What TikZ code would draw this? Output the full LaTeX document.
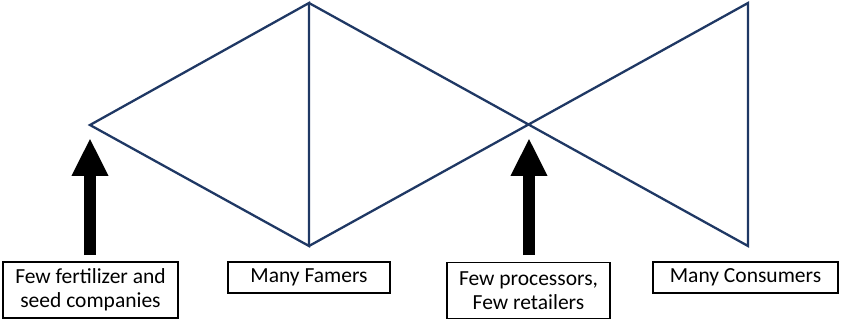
\documentclass[tikz,border=0pt]{standalone}
\usepackage{fontspec}
\setmainfont{Carlito}
\usetikzlibrary{arrows.meta,positioning}
\definecolor{fishblue}{HTML}{1F3864}

\begin{document}
\begin{tikzpicture}[x=1pt,y=-1pt,
                   outline/.style={draw=fishblue,line width=2.3pt,line join=miter},
                   bigarrow/.style={draw=black,line width=12pt,
                     -{Triangle[width=34pt,length=38pt]}},
                   box/.style={draw=black,line width=1.2pt,fill=white,
                     shape=rectangle,align=center,minimum height=31pt,
                     inner sep=0pt,font=\fontsize{21.5}{24.5}\selectfont}]
  \useasboundingbox (0,0) rectangle (842,320);
  % fish outline
  \coordinate (tip) at (90,125);
  \coordinate (topA) at (309,3);
  \coordinate (botA) at (309,246);
  \coordinate (topB) at (748,3);
  \coordinate (botB) at (748,246);
  \draw[outline] (tip) -- (topA) -- (botA) -- cycle;
  \draw[outline] (topA) -- (botB) -- (topB) -- (botA);
  % labels
  \node[box,minimum width=175pt,minimum height=56pt] (suppliers) at (90.5,290) {Few fertilizer and\\seed companies};
  \node[box,minimum width=162pt] (farmers) at (309,277.5) {Many Famers};
  \node[box,minimum width=163pt,minimum height=56pt] (processors) at (528.5,290.5) {Few processors,\\Few retailers};
  \node[box,minimum width=185pt] (consumers) at (745.5,277.5) {Many Consumers};
  % arrows
  \coordinate (arrA) at (90,255);
  \coordinate (arrB) at (529,255);
  \draw[bigarrow] (arrA) -- ++(0,-117);
  \draw[bigarrow] (arrB) -- ++(0,-117);
\end{tikzpicture}
\end{document}
